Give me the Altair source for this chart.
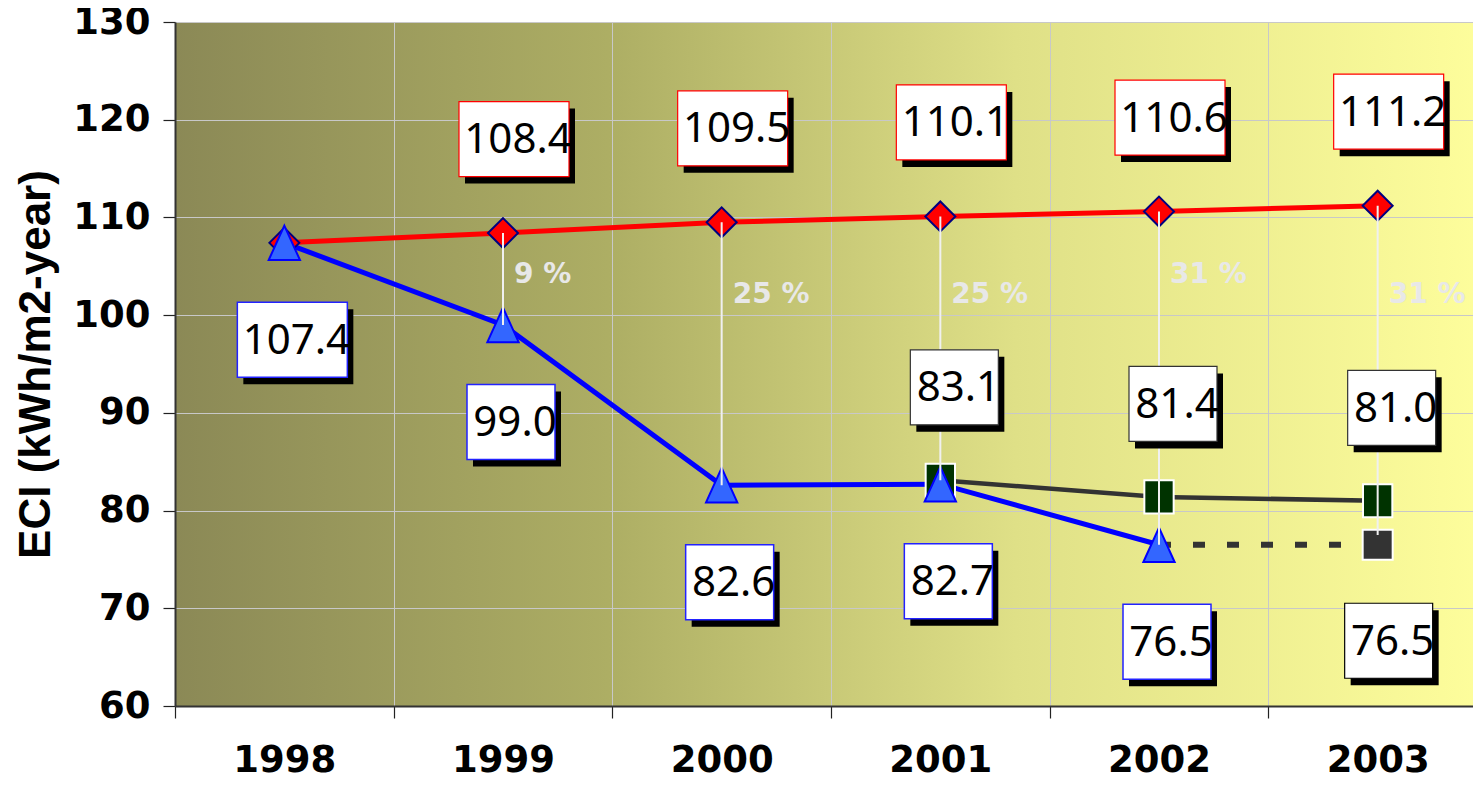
import altair as alt
import pandas as pd

# ---------------- data ----------------
years = ["1998", "1999", "2000", "2001", "2002", "2003"]
baseline_eci = [107.4, 108.4, 109.5, 110.1, 110.6, 111.2]

actual_years = ["1998", "1999", "2000", "2001", "2002"]
actual_eci = [107.4, 99.0, 82.6, 82.7, 76.5]

projected_years = ["2001", "2002", "2003"]
projected_eci = [83.1, 81.4, 81.0]

target_years = ["2002", "2003"]
target_eci = [76.5, 76.5]

saving_years = ["1999", "2000", "2001", "2002", "2003"]
saving_labels = ["9 %", "25 %", "25 %", "31 %", "31 %"]
saving_top = [108.4, 109.5, 110.1, 110.6, 111.2]
saving_bottom = [99.0, 82.6, 83.1, 76.5, 77.5]
saving_label_y = [104.1, 102.1, 102.1, 104.1, 102.1]

# ---------------- tables ----------------
base_df = pd.DataFrame({"year": years, "eci": baseline_eci})
act_df = pd.DataFrame({"year": actual_years, "eci": actual_eci})
proj_df = pd.DataFrame({"year": projected_years, "eci": projected_eci})
tgt_df = pd.DataFrame({"year": target_years, "eci": target_eci})
sav_df = pd.DataFrame({"year": saving_years, "label": saving_labels,
                       "top": saving_top, "bottom": saving_bottom,
                       "label_y": saving_label_y})

PLOT_W, PLOT_H = 1312, 684
Y_TITLE = "ECI (kWh/m2-year)"

x_enc = alt.X(
    "year:N", sort=years,
    scale=alt.Scale(domain=years, paddingInner=0, paddingOuter=0),
    axis=alt.Axis(title=None, tickBand="extent", grid=True, labelAngle=0,
                  labelFont="DejaVu Sans", labelFontWeight="bold", labelFontSize=37,
                  labelColor="black", labelPadding=24, tickSize=12),
)
y_scale = alt.Scale(domain=[60, 130], nice=False, zero=False)
y_axis = alt.Axis(values=list(range(60, 131, 10)), title=Y_TITLE,
                  labelFont="DejaVu Sans", labelFontWeight="bold", labelFontSize=37,
                  labelColor="black", labelPadding=13, tickSize=12,
                  titleFont="Liberation Sans", titleFontWeight="bold", titleFontSize=44,
                  titleColor="black", titlePadding=14, grid=True)


def Y(field):
    return alt.Y(f"{field}:Q", scale=y_scale, axis=y_axis, title=Y_TITLE)


# ---------------- lines ----------------
red_line = alt.Chart(base_df).mark_line(color="#ff0000", strokeWidth=5).encode(x=x_enc, y=Y("eci"))
blue_line = alt.Chart(act_df).mark_line(color="#0000ff", strokeWidth=5).encode(x=x_enc, y=Y("eci"))
gray_line = alt.Chart(proj_df).mark_line(color="#333333", strokeWidth=4.5).encode(x=x_enc, y=Y("eci"))
dot_line = alt.Chart(tgt_df).mark_line(color="#333333", strokeWidth=6, strokeDash=[12, 22]).encode(x=x_enc, y=Y("eci"))

# ---------------- markers ----------------
diamonds = alt.Chart(base_df).mark_point(
    shape="diamond", filled=True, fill="#ff0000", stroke="#000080", strokeWidth=2,
    size=900, opacity=1).encode(x=x_enc, y=Y("eci"))
green_sq = alt.Chart(proj_df).mark_point(
    shape="M-1,-1.13H1V1.13H-1Z", filled=True, fill="#003300", stroke="white", strokeWidth=2,
    size=860, opacity=1).encode(x=x_enc, y=Y("eci"))
gray_sq = alt.Chart(tgt_df[tgt_df.year == "2003"]).mark_point(
    shape="square", filled=True, fill="#333333", stroke="white", strokeWidth=2,
    size=900, opacity=1).encode(x=x_enc, y=Y("eci"))
triangles = alt.Chart(act_df).mark_point(
    shape="M0,-1.1L1,1.1L-1,1.1Z", filled=True, fill="#3366ff", stroke="#0000ff", strokeWidth=2,
    size=980, opacity=1).encode(x=x_enc, y=Y("eci"))

# ---------------- saving rules & labels ----------------
rules = alt.Chart(sav_df).mark_rule(color="#f0f0f0", strokeWidth=2).encode(
    x=x_enc, y=Y("top"), y2="bottom:Q")
pct = alt.Chart(sav_df).mark_text(
    font="DejaVu Sans", fontWeight="bold", fontSize=28, color="#e8e8e8",
    align="left", baseline="middle", dx=11).encode(x=x_enc, y=Y("label_y"), text="label:N")


# ---------------- value boxes ----------------
def boxes(yrs, vals, stroke, dx, dy, sw=1.2):
    df = pd.DataFrame({"year": yrs, "eci": vals})
    df["txt"] = df["eci"].map(lambda v: f"{v:.1f}")
    layers = []
    for n, sub in df.groupby(df["txt"].str.len()):
        w = 22 * n
        c = alt.Chart(sub)
        layers.append(c.mark_rect(width=w, height=75, color="black",
                                  xOffset=dx + 6, yOffset=dy + 7).encode(x=x_enc, y=Y("eci")))
        layers.append(c.mark_rect(width=w, height=75, fill="white", stroke=stroke, strokeWidth=sw,
                                  xOffset=dx, yOffset=dy).encode(x=x_enc, y=Y("eci")))
        layers.append(c.mark_text(font="Noto Sans", fontSize=42, color="black",
                                  align="center", baseline="middle",
                                  dx=dx + 4, dy=dy + 1).encode(x=x_enc, y=Y("eci"), text="txt:N"))
    return layers


box_layers = []
box_layers += boxes(years[1:], baseline_eci[1:], "#ff0000", 11, -94)
box_layers += boxes(actual_years, actual_eci, "#2222ff", 8, 97, 1.5)
box_layers += boxes(projected_years, projected_eci, "#333333", 14, -93)
box_layers += boxes(["2003"], [76.5], "#000000", 11, 96)

grad = ("{gradient: 'linear', x1: 0, y1: 0, x2: 1, y2: 0, stops: ["
        "{offset: 0, color: '#8b8956'}, {offset: 0.33, color: '#adae64'}, "
        "{offset: 0.64, color: '#dfe087'}, {offset: 1, color: '#fefe9c'}]}")

chart = alt.layer(
    red_line, blue_line, gray_line, dot_line,
    diamonds, green_sq, gray_sq, triangles,
    rules, pct, *box_layers,
).properties(
    width=PLOT_W, height=PLOT_H,
    padding={"left": 167, "top": 14, "right": -14, "bottom": 72},
    autosize=alt.AutoSizeParams(type="none"),
).configure_view(
    fill={"expr": grad}, stroke="transparent"
).configure_axis(
    gridColor="#c8c8c8", gridWidth=1, domainColor="#333333", domainWidth=2,
    tickColor="#222222", tickWidth=1.2,
)

chart.save("out.html", embed_options={"renderer": "svg", "actions": False})
